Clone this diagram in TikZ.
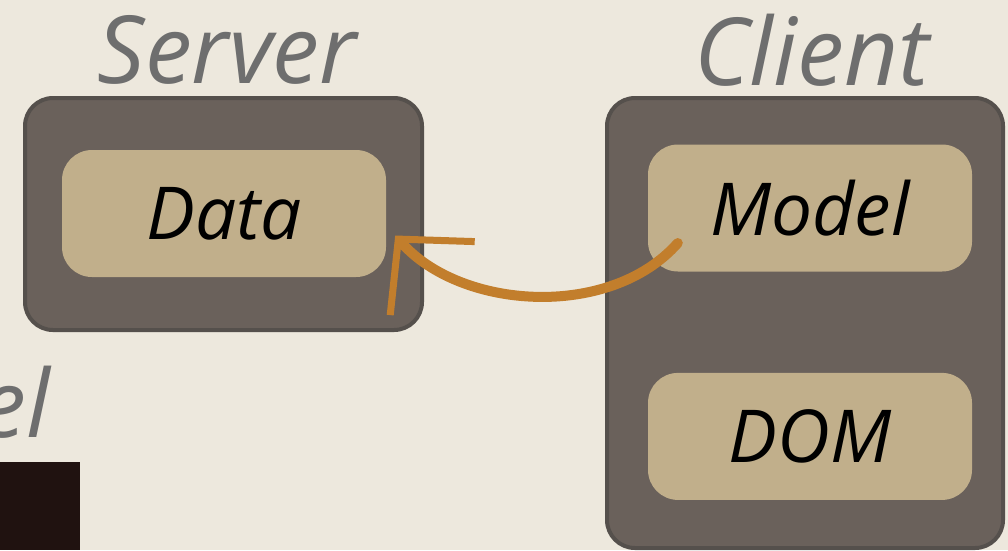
\documentclass[tikz,border=0pt]{standalone}
\usepackage{fontspec}
\setmainfont{Open Sans}
\usetikzlibrary{positioning,calc,arrows.meta}
\definecolor{paper}{HTML}{EDE8DD}
\definecolor{tierfill}{HTML}{6A615B}
\definecolor{tierline}{HTML}{55504C}
\definecolor{partfill}{HTML}{C1AF8B}
\definecolor{titlegray}{HTML}{6E6E6E}
\definecolor{brush}{HTML}{C27E2C}
\definecolor{darkblock}{HTML}{201210}
\tikzset{tier/.style={draw=tierline, line width=4pt, fill=tierfill, rounded corners=28pt, inner sep=0pt}}
\tikzset{part/.style={fill=partfill, rounded corners=30pt, minimum width=324pt, minimum height=127pt, inner sep=0pt, font=\itshape\fontsize{73}{80}\selectfont}}
\tikzset{title/.style={text=titlegray, inner sep=0pt, font=\itshape\fontsize{94}{100}\selectfont}}
\tikzset{arr/.style={draw=brush, line width=10pt, line cap=round, -{Straight Barb[length=52pt,width=112pt,line width=7pt]}}}

\begin{document}
\begin{tikzpicture}[x=1pt,y=-1pt]
            \fill[paper] (0,0) rectangle (1008,550);
            \useasboundingbox (0,0) rectangle (1008,550);
            % server side
            \node[tier, minimum width=397pt, minimum height=232pt](server) at (223.5,214) {};
            \node[part](data) at (224,213.5) {Data};
            \node[title](servertitle) at (227,50) {Server};
            % client side
            \node[tier, minimum width=396pt, minimum height=450pt](client) at (805,323) {};
            \node[part](model) at (810,208) {Model};
            \node[part,below=101pt of model](dom) {DOM};
            \node[title](clienttitle) at (812,50) {Client};
            % cut off at the left edge
            \node[title, anchor=east](cut) at (50,402) {el};
            \fill[darkblock] (0,462) rectangle (80,550);
            % fetch
            \draw[arr] ($(model.west)+(30,35)$) .. controls (610,320) and (460,310) .. ($(data.east)+(9,22)$);
        \end{tikzpicture}
\end{document}
